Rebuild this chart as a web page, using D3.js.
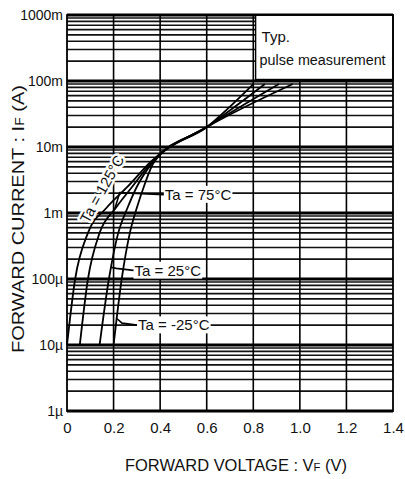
<!DOCTYPE html>
<html>
<head>
<meta charset="utf-8">
<script src="https://cdn.jsdelivr.net/npm/d3@7"></script>
<style>
  body { margin: 0; background: #fff; }
  svg text { fill: #111; }
</style>
</head>
<body>
<svg id="chart"></svg>
<script>
// forward voltage (V) vs forward current (A)
let curve125 = [[0.00, 1e-5], [0.035, 1e-4], [0.09, 5e-4], [0.17, 1.2e-3], [0.26, 2.5e-3], [0.36, 6e-3], [0.60, 2e-2], [0.97, 9e-2]]
let curve75  = [[0.055, 1e-5], [0.09, 1e-4], [0.14, 5e-4], [0.21, 1.2e-3], [0.28, 2.5e-3], [0.365, 6e-3], [0.60, 2e-2], [0.91, 9e-2]]
let curve25  = [[0.14, 1e-5], [0.18, 1e-4], [0.22, 5e-4], [0.26, 1.2e-3], [0.30, 2.5e-3], [0.37, 6e-3], [0.60, 2e-2], [0.85, 9e-2]]
let curveM25 = [[0.20, 1e-5], [0.235, 1e-4], [0.27, 5e-4], [0.30, 1.2e-3], [0.33, 2.5e-3], [0.375, 6e-3], [0.60, 2e-2], [0.80, 9e-2]]

let xTicks = [0, 0.2, 0.4, 0.6, 0.8, 1.0, 1.2, 1.4]
let xTickLabels = ['0', '0.2', '0.4', '0.6', '0.8', '1.0', '1.2', '1.4']
let yTicks = [1e-6, 1e-5, 1e-4, 1e-3, 1e-2, 1e-1, 1]
let yTickLabels = ['1\u00b5', '10\u00b5', '100\u00b5', '1m', '10m', '100m', '1000m']

// labels: text anchor [V, I] and leader tip on the curve [V, I]
let tempLabels = [
  {text: 'Ta = 75\u00b0C', at: [0.42, 1.9e-3], tip: [0.205, 1.15e-3]},
  {text: 'Ta = 25\u00b0C', at: [0.29, 1.35e-4], tip: [0.19, 1.5e-4]},
  {text: 'Ta = -25\u00b0C', at: [0.305, 2.0e-5], tip: [0.215, 2.5e-5]}
]
let label125 = {text: 'Ta = 125\u00b0C', at: [0.15, 2.3e-3]}

let width = 405
let height = 479
let pLeft = 67, pRight = 393, pTop = 15, pBottom = 411

let svg = d3.select('#chart').attr('width', width).attr('height', height)

let xScale = d3.scaleLinear().domain([0, 1.4]).range([pLeft, pRight])
let yScale = d3.scaleLog().domain([1e-6, 1]).range([pBottom, pTop])

// horizontal grid
let minor = []
for (let d = -6; d < 0; d++) {
  for (let k = 2; k <= 9; k++) minor.push(k * Math.pow(10, d))
}
svg.append('g').selectAll('line')
  .data(minor)
  .enter()
  .append('line')
  .attr('x1', pLeft).attr('x2', pRight)
  .attr('y1', d => yScale(d)).attr('y2', d => yScale(d))
  .attr('stroke', '#111').attr('stroke-width', 1.6)

svg.append('g').selectAll('line')
  .data(yTicks)
  .enter()
  .append('line')
  .attr('x1', pLeft).attr('x2', pRight)
  .attr('y1', d => yScale(d)).attr('y2', d => yScale(d))
  .attr('stroke', '#000').attr('stroke-width', 3.2)

// vertical grid
svg.append('g').selectAll('line')
  .data(xTicks.slice(1, -1))
  .enter()
  .append('line')
  .attr('y1', pTop).attr('y2', pBottom)
  .attr('x1', d => xScale(d)).attr('x2', d => xScale(d))
  .attr('stroke', '#000').attr('stroke-width', 1.6)

// note box
let boxLeft = xScale(0.81)
svg.append('rect')
  .attr('x', boxLeft).attr('y', pTop)
  .attr('width', pRight - boxLeft).attr('height', yScale(0.1) - pTop - 1.5)
  .attr('fill', '#fff').attr('stroke', '#000').attr('stroke-width', 1.4)
svg.append('text').attr('x', boxLeft + 6).attr('y', pTop + 27)
  .style('font-family', 'Liberation Sans, Arial, sans-serif').style('font-size', '15px')
  .text('Typ.')
svg.append('text').attr('x', boxLeft + 4).attr('y', pTop + 50)
  .attr('textLength', 126).attr('lengthAdjust', 'spacingAndGlyphs')
  .style('font-family', 'Liberation Sans Narrow, Liberation Sans, sans-serif').style('font-size', '14px')
  .text('pulse measurement')

// frame
svg.append('rect')
  .attr('x', pLeft).attr('y', pTop).attr('width', pRight - pLeft).attr('height', pBottom - pTop)
  .attr('fill', 'none').attr('stroke', '#000').attr('stroke-width', 1.8)

// curves
let line = d3.line()
  .x(d => xScale(d[0]))
  .y(d => yScale(d[1]))
  .curve(d3.curveMonotoneX)

svg.append('g').selectAll('path')
  .data([curve125, curve75, curve25, curveM25])
  .enter()
  .append('path')
  .attr('d', line)
  .attr('fill', 'none')
  .attr('stroke', '#000')
  .attr('stroke-width', 1.8)

// temperature labels with leaders
let lab = svg.append('g')
  .style('font-family', 'Liberation Sans Narrow, Liberation Sans, sans-serif')
  .style('font-size', '15px')

tempLabels.forEach(l => {
  let tx = xScale(l.at[0]), ty = yScale(l.at[1])
  let t = lab.append('text').attr('x', tx).attr('y', ty).attr('dy', '0.35em').text(l.text)
  let bb = t.node().getBBox()
  lab.insert('rect', 'text')
    .attr('x', bb.x - 1).attr('y', bb.y).attr('width', bb.width + 2).attr('height', bb.height)
    .attr('fill', '#fff')
  lab.append('path')
    .attr('d', d3.line()([[xScale(l.tip[0]), yScale(l.tip[1])], [xScale(l.tip[0]) + 5, ty - 2], [tx - 1, ty]]))
    .attr('fill', 'none').attr('stroke', '#000').attr('stroke-width', 1.6)
})

lab.append('text')
  .attr('transform', `translate(${xScale(label125.at[0])},${yScale(label125.at[1])}) rotate(-61)`)
  .attr('text-anchor', 'middle').attr('dy', '0.35em')
  .attr('stroke', '#fff').attr('stroke-width', 5).attr('paint-order', 'stroke')
  .attr('stroke-linejoin', 'round')
  .text(label125.text)

// axes
let xAxis = d3.axisBottom(xScale)
  .tickValues(xTicks).tickSize(0).tickPadding(11)
  .tickFormat((d, i) => xTickLabels[i])
let gx = svg.append('g').attr('transform', `translate(0,${pBottom})`).call(xAxis)
gx.select('.domain').remove()
gx.selectAll('text')
  .style('font-family', 'Liberation Sans, Arial, sans-serif').style('font-size', '15px').attr('fill', '#111')

let yAxis = d3.axisLeft(yScale)
  .tickValues(yTicks).tickSize(0).tickPadding(4)
  .tickFormat((d, i) => yTickLabels[i])
let gy = svg.append('g').attr('transform', `translate(${pLeft},0)`).call(yAxis)
gy.select('.domain').remove()
gy.selectAll('text')
  .style('font-family', 'Liberation Sans Narrow, Liberation Sans, sans-serif').style('font-size', '14px').attr('fill', '#111')

// titles
let xt = svg.append('text')
  .attr('x', 236).attr('y', 471)
  .attr('text-anchor', 'middle')
  .attr('textLength', 222).attr('lengthAdjust', 'spacingAndGlyphs')
  .style('font-family', 'Liberation Sans, Arial, sans-serif').style('font-size', '16px')
xt.append('tspan').text('FORWARD VOLTAGE : V')
xt.append('tspan').style('font-size', '11px').text('F')
xt.append('tspan').text(' (V)')

let yt = svg.append('text')
  .attr('transform', 'translate(24,219) rotate(-90)')
  .attr('text-anchor', 'middle')
  .attr('textLength', 268).attr('lengthAdjust', 'spacingAndGlyphs')
  .style('font-family', 'Liberation Sans, Arial, sans-serif').style('font-size', '17px')
yt.append('tspan').text('FORWARD CURRENT : I')
yt.append('tspan').style('font-size', '12px').text('F')
yt.append('tspan').text(' (A)')
</script>
</body>
</html>
